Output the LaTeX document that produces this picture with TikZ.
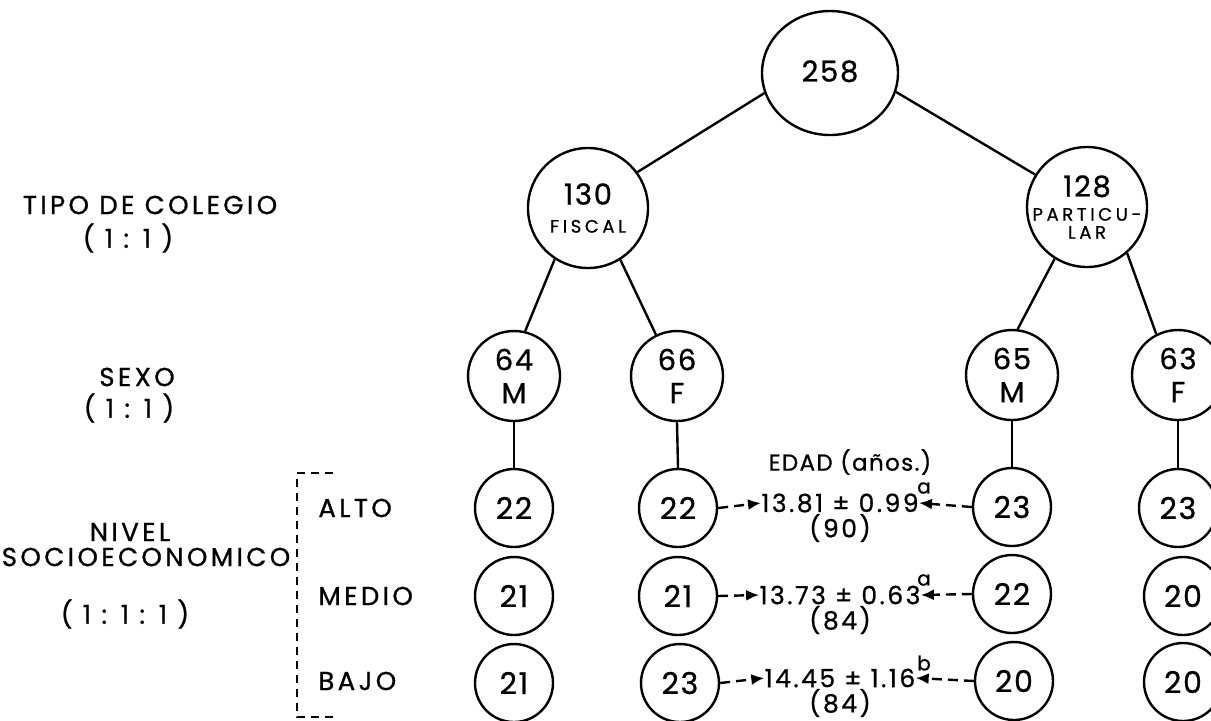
\documentclass[tikz,border=0pt]{standalone}
\usepackage{fontspec}
\setmainfont{Poppins}[LetterSpace=6,FakeBold=0.8]
\newfontfamily\smallf{Poppins}[LetterSpace=20,FakeBold=0.8]
\newfontfamily\labf{Poppins}[LetterSpace=13,FakeBold=0.9]
\newfontfamily\valf{Poppins}[LetterSpace=10,FakeBold=0.8]
\usetikzlibrary{shapes.geometric,arrows.meta}
\tikzset{
  ln/.style={line width=1.2pt},
  big/.style={ellipse,draw,ln,inner sep=0pt,minimum width=68pt,minimum height=62pt,align=center,font=\fontsize{14.5}{17}\selectfont},
  mid/.style={ellipse,draw,ln,inner sep=0pt,minimum width=60pt,minimum height=60pt,align=center,font=\fontsize{14.5}{17}\selectfont},
  sx/.style={ellipse,draw,ln,inner sep=0pt,minimum width=46pt,minimum height=45pt,align=center,font=\fontsize{14.5}{16.5}\selectfont},
  lf/.style={ellipse,draw,ln,inner sep=0pt,minimum width=39pt,minimum height=39pt,font=\fontsize{15}{15}\selectfont},
  lab/.style={inner sep=0pt,font=\labf\fontsize{13}{14}\selectfont,align=center},
  val/.style={inner sep=0pt,font=\valf\fontsize{12.5}{13}\selectfont},
  sup/.style={inner sep=0pt,font=\fontsize{10}{10}\selectfont},
  darr/.style={ln,dashed,dash pattern=on 5pt off 3pt,-{Latex[length=6.5pt,width=5.5pt]}},
}
\newcommand{\sm}[1]{\makebox[0pt]{\smallf\fontsize{9}{9}\selectfont #1}}
\begin{document}
\begin{tikzpicture}[x=0.5pt,y=-0.5pt]
\useasboundingbox (0,0) rectangle (1211,720);
% tree nodes
\node[big] (r) at (830,73) {\raisebox{2pt}{258}};
\node[mid] (fi) at (588,208) {130\\[-3pt]\sm{FISCAL}};
\node[mid] (pa) at (1087,207) {128\\[-5pt]\sm{PARTICU-}\\[-8pt]\sm{LAR}};
\node[sx] (m1) at (514,376) {64\\M};
\node[sx] (f1) at (677,376) {66\\F};
\node[sx] (m2) at (1012,375) {65\\M};
\node[sx] (f2) at (1178,375) {63\\F};
% leaves
\node[lf] (a1) at (514,508) {22};
\node[lf] (b1) at (514,596) {21};
\node[lf] (c1) at (514,683) {21};
\node[lf] (a2) at (678,508) {22};
\node[lf] (b2) at (678,596) {21};
\node[lf] (c2) at (680,683) {23};
\node[lf] (a3) at (1012,507) {23};
\node[lf] (b3) at (1012,594) {22};
\node[lf] (c3) at (1014,681) {20};
\node[lf] (a4) at (1178,508) {23};
\node[lf] (b4) at (1183,596) {20};
\node[lf] (c4) at (1183,682) {20};
% tree edges
\draw[ln] (r.197) -- (fi.36);
\draw[ln] (r.-16) -- (pa.148);
\draw[ln] (fi.237) -- (m1.76);
\draw[ln] (fi.302) -- (f1.117);
\draw[ln] (pa.238) -- (m2.83);
\draw[ln] (pa.311) -- (f2.118);
\draw[ln] (m1.south) -- (a1.north);
\draw[ln] (f1.south) -- (a2.north);
\draw[ln] (m2.south) -- (a3.north);
\draw[ln] (f2.south) -- (a4.north);
% ages
\node[inner sep=0pt,font=\fontsize{11.5}{12}\selectfont] (ed) at (850,462) {EDAD (años.)};
\node[val] (v1) at (840,503) {13.81 ± 0.99};
\node[val] (n1) at (840,528) {(90)};
\node[sup] (s1) at (924,488) {a};
\node[val] (v2) at (840,595) {13.73 ± 0.63};
\node[val] (n2) at (840,620) {(84)};
\node[sup] (s2) at (924,580) {a};
\node[val] (v3) at (840,678) {14.45 ± 1.16};
\node[val] (n3) at (840,703) {(84)};
\node[sup] (s3) at (924,663) {b};
\draw[darr] (a2.east) -- (v1.west);
\draw[darr] (a3.west) -- (v1.east);
\draw[darr] (b2.east) -- (v2.west);
\draw[darr] (b3.west) -- (v2.east);
\draw[darr] (c2.east) -- (v3.west);
\draw[darr] (c3.west) -- (v3.east);
% left labels
\node[lab] (tc) at (150,205) {TIPO DE COLEGIO};
\node[lab] (tcr) at (128,238) {( 1 : 1 )};
\node[lab] (sxl) at (137,377) {SEXO};
\node[lab] (sxr) at (129,408) {( 1 : 1 )};
\node[lab] (nv) at (130,532) {NIVEL};
\node[lab] (se) at (146,557) {SOCIOECONOMICO};
\node[lab] (ser) at (125,614) {( 1 : 1 : 1 )};
\node[lab,anchor=west] (al) at (318,508) {ALTO};
\node[lab,anchor=west] (me) at (318,596) {MEDIO};
\node[lab,anchor=west] (ba) at (318,681) {BAJO};
\coordinate (bt) at (333,473);
\coordinate (bb) at (333,717);
\draw[ln,line width=0.9pt,dashed,dash pattern=on 4pt off 3pt] (bt) -- (297,473) -- (297,717) -- (bb);
\end{tikzpicture}
\end{document}
